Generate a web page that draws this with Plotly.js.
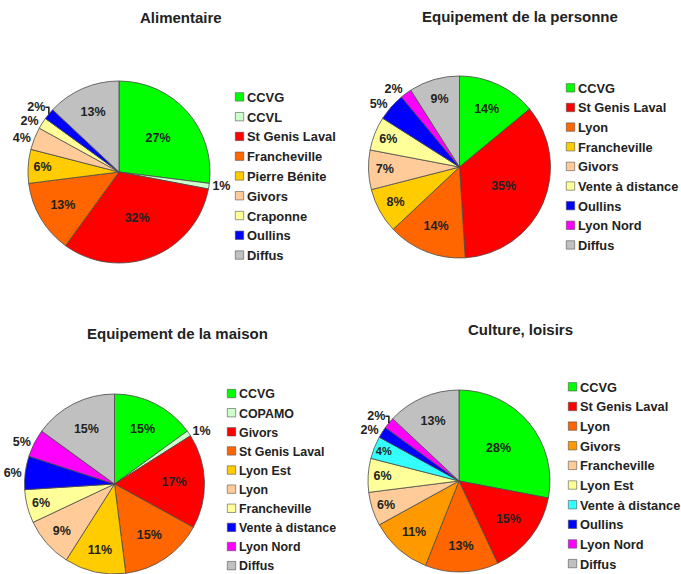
<!DOCTYPE html>
<html>
<head>
<meta charset="utf-8">
<script src="https://cdn.plot.ly/plotly-3.0.1.min.js"></script>
<style>
html,body{margin:0;padding:0;background:#fff;}
#chart{width:681px;height:574px;}
#chart .legendpie{transform: translate(32.5px,0px) scale(0.7);}
</style>
</head>
<body>
<div id="chart"></div>
<script>
// ---- DATA ----
const alimLabels = ["CCVG","CCVL","St Genis Laval","Francheville","Pierre Bénite","Givors","Craponne","Oullins","Diffus"];
const alimValues = [27,1,32,13,6,4,2,2,13];

const persLabels = ["CCVG","St Genis Laval","Lyon","Francheville","Givors","Vente à distance","Oullins","Lyon Nord","Diffus"];
const persValues = [14,35,14,8,7,6,5,2,9];

const maisLabels = ["CCVG","COPAMO","Givors","St Genis Laval","Lyon Est","Lyon","Francheville","Vente à distance","Lyon Nord","Diffus"];
const maisValues = [15,1,17,15,11,9,6,6,5,15];

const cultLabels = ["CCVG","St Genis Laval","Lyon","Givors","Francheville","Lyon Est","Vente à distance","Oullins","Lyon Nord","Diffus"];
const cultValues = [28,15,13,11,6,6,4,2,2,13];

const chartTitles = ["Alimentaire","Equipement de la personne","Equipement de la maison","Culture, loisirs"];

// ---- STYLE ----
const alimColors = ["#00FF00","#CCFFCC","#FF0000","#FF6600","#FFCC00","#FFCC99","#FFFF99","#0000FF","#C0C0C0"];
const persColors = ["#00FF00","#FF0000","#FF6600","#FFCC00","#FFCC99","#FFFF99","#0000FF","#FF00FF","#C0C0C0"];
const maisColors = ["#00FF00","#CCFFCC","#FF0000","#FF6600","#FFCC00","#FFCC99","#FFFF99","#0000FF","#FF00FF","#C0C0C0"];
const cultColors = ["#00FF00","#FF0000","#FF6600","#FF9900","#FFCC99","#FFFF99","#33FFFF","#0000FF","#FF00FF","#C0C0C0"];

const FONT = "Liberation Sans, Arial, sans-serif";

// Pie legends are shared by label across traces; a per-chart invisible
// suffix keeps each chart's legend complete.
function uniq(labels, k) {
  return labels.map(l => l + "\u200B".repeat(k));
}

function textPos(values, outsideIdx) {
  return values.map((v, i) => outsideIdx.includes(i) ? "outside" : "inside");
}

function pieTrace(labels, values, colors, domain, legendId, outsideIdx, k) {
  return {
    type: "pie",
    labels: uniq(labels, k),
    values: values,
    sort: false,
    direction: "clockwise",
    rotation: 0,
    domain: domain,
    legend: legendId,
    marker: {colors: colors, line: {color: "#4a4a4a", width: 0.8}},
    texttemplate: "%{value}%",
    textposition: textPos(values, outsideIdx),
    insidetextorientation: "horizontal",
    textfont: {family: FONT, size: 12.5, color: "#222", weight: "bold"},
    insidetextfont: {family: FONT, size: 12.5, color: "#222", weight: "bold"},
    outsidetextfont: {family: FONT, size: 12.5, color: "#222", weight: "bold"},
    hoverinfo: "label+value",
    automargin: false
  };
}

const data = [
  pieTrace(alimLabels, alimValues, alimColors, {x:[0.0411,0.3084], y:[0.5418,0.8589]}, "legend", [1,5,6,7], 0),
  pieTrace(persLabels, persValues, persColors, {x:[0.5411,0.8084], y:[0.5505,0.8676]}, "legend2", [6,7], 1),
  pieTrace(maisLabels, maisValues, maisColors, {x:[0.0360,0.3003], y:[0.0,0.3136]}, "legend3", [1,7,8], 2),
  pieTrace(cultLabels, cultValues, cultColors, {x:[0.5404,0.8076], y:[0.0035,0.3206]}, "legend4", [7,8], 3)
];

function legendCfg(x, y, size) {
  return {
    x: x, y: y, xanchor: "left", yanchor: "top",
    bgcolor: "rgba(0,0,0,0)", borderwidth: 0,
    font: {family: FONT, size: size, color: "#222", weight: "bold"},
    traceorder: "normal"
  };
}

const titlePos = [[181, 18], [520, 17], [177, 333], [520, 329]];

const layout = {
  width: 681, height: 574,
  margin: {l:0, r:0, t:0, b:0, autoexpand: false},
  paper_bgcolor: "#fff",
  showlegend: true,
  legend: legendCfg(207/681, 1 - 82/574, 12.9),
  legend2: legendCfg(538/681, 1 - 73/574, 12.8),
  legend3: legendCfg(199/681, 1 - 379/574, 12.4),
  legend4: legendCfg(540/681, 1 - 372/574, 12.8),
  annotations: chartTitles.map((t, i) => ({
    text: t, showarrow: false,
    x: titlePos[i][0] / 681, y: 1 - titlePos[i][1] / 574,
    xref: "paper", yref: "paper", xanchor: "center", yanchor: "middle",
    font: {family: FONT, size: 15, color: "#222", weight: "bold"}
  }))
};

Plotly.newPlot("chart", data, layout, {displayModeBar: false, staticPlot: true});
</script>
</body>
</html>
